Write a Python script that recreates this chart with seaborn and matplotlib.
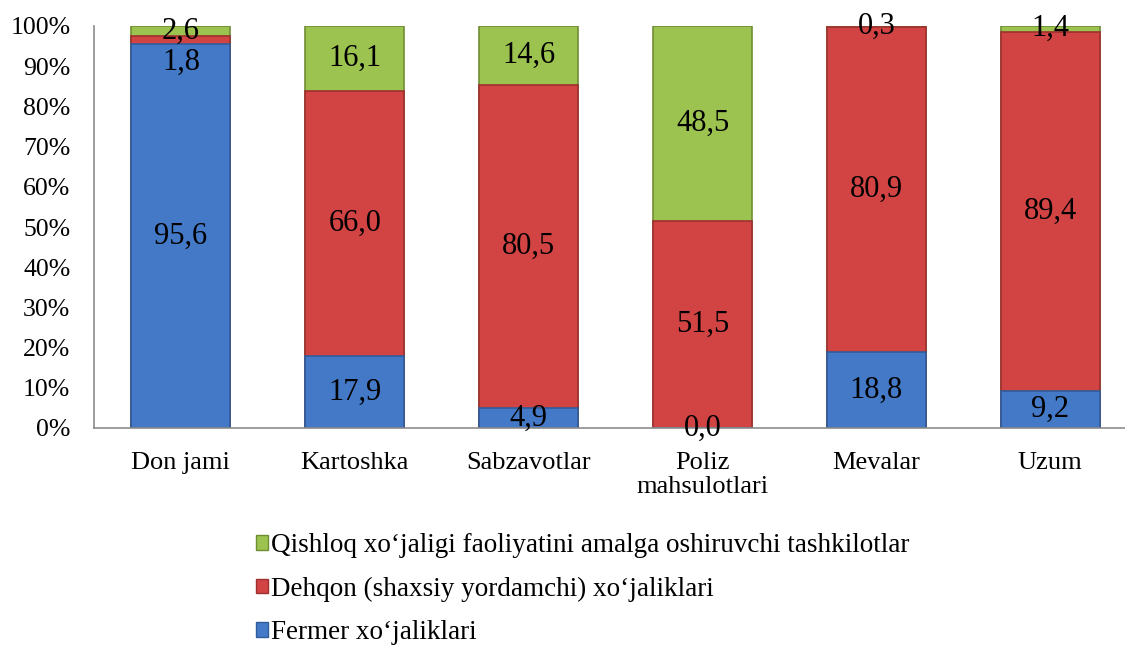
import numpy as np
import pandas as pd
import seaborn as sns
import matplotlib.pyplot as plt
from matplotlib.patches import Patch

categories = ['Don jami', 'Kartoshka', 'Sabzavotlar', 'Poliz\nmahsulotlari', 'Mevalar', 'Uzum']
fermer = [95.6, 17.9, 4.9, 0.0, 18.8, 9.2]
dehqon = [1.8, 66.0, 80.5, 51.5, 80.9, 89.4]
tashkilot = [2.6, 16.1, 14.6, 48.5, 0.3, 1.4]
series_names = ['Fermer xo‘jaliklari',
                'Dehqon (shaxsiy yordamchi) xo‘jaliklari',
                'Qishloq xo‘jaligi faoliyatini amalga oshiruvchi tashkilotlar']
y_ticks = [0, 10, 20, 30, 40, 50, 60, 70, 80, 90, 100]

colors = ['#4379C6', '#D24444', '#9CC24F']
edges = ['#2F5C9A', '#9E2F2F', '#6F8E34']
# small manual nudge for the crowded label in the first bar (like the original)
label_nudge = [[0] * 6, [-5.5, 0, 0, 0, 0, 0], [0] * 6]

sns.set_theme(style='white')
plt.rcParams['font.family'] = ['Liberation Serif', 'DejaVu Serif']
plt.rcParams['text.color'] = 'black'
plt.rcParams['xtick.color'] = 'black'
plt.rcParams['ytick.color'] = 'black'

df = pd.DataFrame({'cat': categories, 'fermer': fermer, 'dehqon': dehqon, 'tashkilot': tashkilot})
df['c1'] = df['fermer']
df['c2'] = df['fermer'] + df['dehqon']
df['c3'] = df['c2'] + df['tashkilot']

fig = plt.figure(figsize=(11.25, 6.46), dpi=100)
ax = fig.add_axes([94 / 1125, 218 / 646, 1031 / 1125, 402 / 646])

# stacked bars: draw cumulative totals from the top series down
for col, i in [('c3', 2), ('c2', 1), ('c1', 0)]:
    sns.barplot(data=df, x='cat', y=col, color=colors[i], saturation=1, width=0.57,
                edgecolor=edges[i], linewidth=1.2, ax=ax)

# value labels at segment centres
series = [fermer, dehqon, tashkilot]
bottom = np.zeros(len(categories))
for s, vals in enumerate(series):
    vals = np.array(vals)
    for j, v in enumerate(vals):
        y = bottom[j] + v / 2 + label_nudge[s][j]
        ax.text(j, y, f'{v:.1f}'.replace('.', ','), ha='center', va='center',
                fontsize=22, color='black')
    bottom += vals

ax.set_xlim(-0.5, 5.43)
ax.set_ylim(0, 100)
ax.set_yticks(y_ticks)
ax.set_yticklabels([f'{t}%' for t in y_ticks])
ax.set_xlabel('')
ax.set_ylabel('')
ax.tick_params(axis='y', length=0, pad=17, labelsize=18.5)
ax.tick_params(axis='x', length=0, pad=17.5, labelsize=19)
for lbl in ax.get_xticklabels():
    lbl.set_linespacing(1.12)
for side in ['top', 'right']:
    ax.spines[side].set_visible(False)
for side in ['left', 'bottom']:
    ax.spines[side].set_color('#8C8C8C')
    ax.spines[side].set_linewidth(1.2)

handles = [Patch(facecolor=colors[i], edgecolor=edges[i], label=series_names[i]) for i in [2, 1, 0]]
fig.legend(handles=handles, loc='upper left', bbox_to_anchor=(256 / 1125, 1 - 533 / 646),
           frameon=False, fontsize=19.5, handlelength=0.45, handleheight=0.45,
           handletextpad=0.12, labelspacing=0.68, borderpad=0, borderaxespad=0)

plt.savefig('out.png', dpi=100)
